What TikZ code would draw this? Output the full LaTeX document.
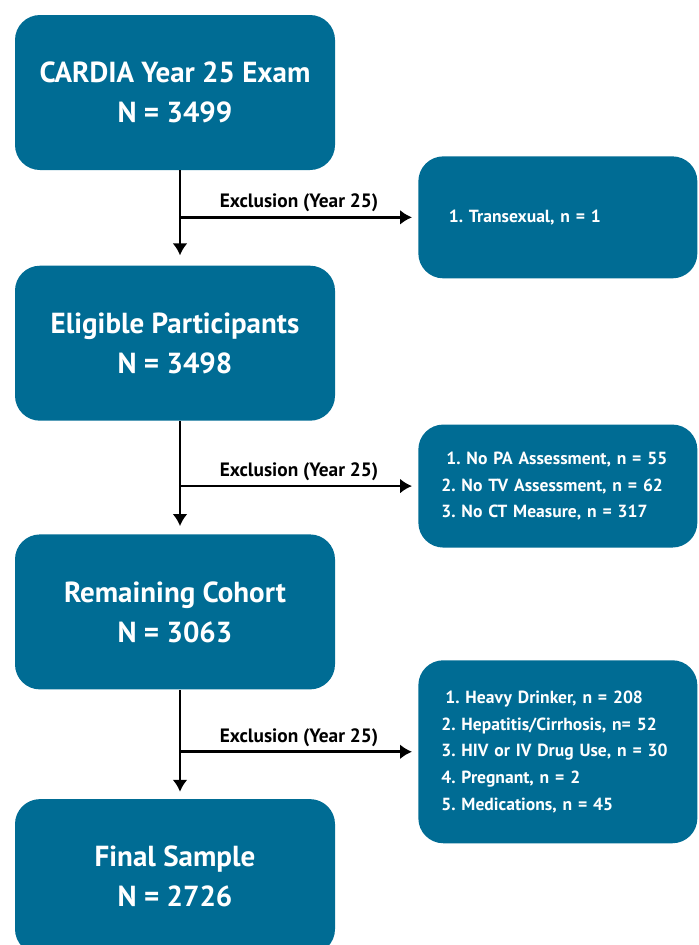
\documentclass[tikz,border=0pt]{standalone}
\usepackage{fontspec}
\setmainfont{PT Sans}
\frenchspacing
\usetikzlibrary{positioning,shapes,arrows,arrows.meta,calc}
\definecolor{cardiablue}{RGB}{0,108,148}
\tikzstyle{mainbox} = [rectangle, fill=cardiablue, text=white, rounded corners=0.5cm, %
   minimum width=6.4cm, minimum height=3.1cm, align=center, %
   font=\fontsize{16.5}{22.7}\selectfont\bfseries]
\tikzstyle{exclbox} = [rectangle, fill=cardiablue, text=white, rounded corners=0.5cm, %
   minimum width=5.58cm, inner xsep=0.46cm, text width=4.66cm, align=left, %
   font=\fontsize{10}{15.2}\selectfont\bfseries]
\tikzstyle{elabel} = [font=\fontsize{11}{13}\selectfont\bfseries, above, inner sep=0.08cm]
\tikzstyle{line} = [draw, line width=1.6pt, -{Latex[length=0.24cm,width=0.3cm]}]

\begin{document}
\begin{tikzpicture}
   \useasboundingbox (0,0) rectangle (13.98,-18.9);
   % Place nodes
   % MAIN SPINE %%%%%%%%%%%%%%%%%%%%%%%%%%%%%%%%%%%%%%%%%%%%%%%%%%%%%
   \node[mainbox] (cardia) at (3.5,-1.85) {CARDIA Year 25 Exam\\N = 3499};
   \node[mainbox, below=1.9cm of cardia] (eligible) {Eligible Participants\\N = 3498};
   \node[mainbox, below=2.26cm of eligible] (remaining) {Remaining Cohort\\N = 3063};
   \node[mainbox, below=2.18cm of remaining] (final) {Final Sample\\N = 2726};

   % split points on the spine
   \coordinate (split1) at ($(cardia.south)+(0.1,-0.94)$);
   \coordinate (split2) at ($(eligible.south)+(0.1,-1.3)$);
   \coordinate (split3) at ($(remaining.south)+(0.1,-1.24)$);

   % Exclusion boxes
   \node[exclbox, minimum height=2.44cm, right=4.76cm of split1] (transx){%
      \hspace*{0.15cm}1. Transexual, n = 1};
   \node[exclbox, minimum height=2.46cm, right=4.76cm of split2] (assess){%
      \hspace*{0.1cm}1. No PA Assessment, n = 55\\
      2. No TV Assessment, n = 62\\
      3. No CT Measure, n = 317};
   \node[exclbox, minimum height=3.66cm, right=4.76cm of split3] (medical){%
      \hspace*{0.08cm}1. Heavy Drinker, n = 208\\
      2. Hepatitis/Cirrhosis, n= 52\\
      3. HIV or IV Drug Use, n = 30\\
      4. Pregnant, n = 2\\
      5. Medications, n = 45};

   % Draw edges
   \path [line, shorten >=0.2cm] (split1 |- cardia.south) -- (split1 |- eligible.north);
   \path [line, shorten >=0.12cm] (split1) -- node[elabel]{Exclusion (Year 25)} (transx);
   \path [line, shorten >=0.16cm] (split2 |- eligible.south) -- (split2 |- remaining.north);
   \path [line, shorten >=0.12cm] (split2) -- node[elabel]{Exclusion (Year 25)} (assess);
   \path [line, shorten >=0.14cm] (split3 |- remaining.south) -- (split3 |- final.north);
   \path [line, shorten >=0.12cm] (split3) -- node[elabel]{Exclusion (Year 25)} (medical);
\end{tikzpicture}
\end{document}
